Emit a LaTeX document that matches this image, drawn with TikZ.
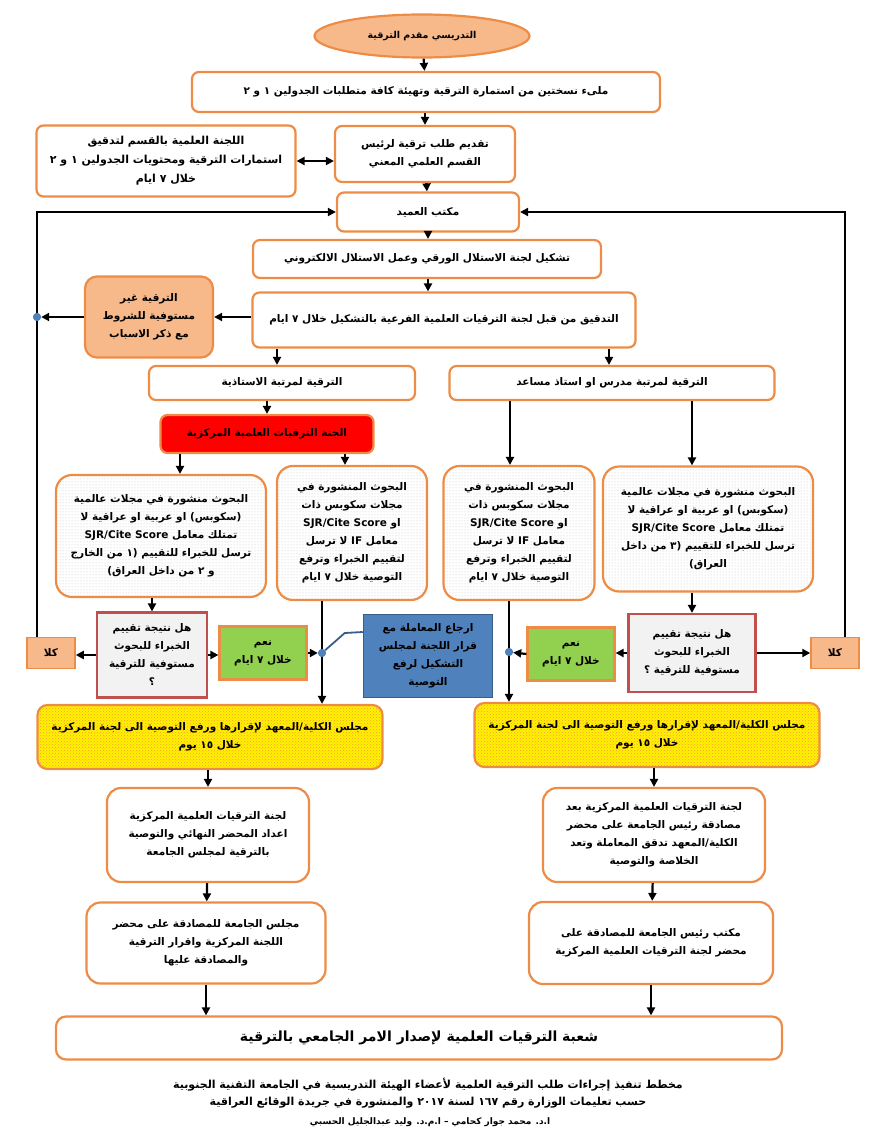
\documentclass[tikz,border=0pt]{standalone}
\usepackage{fontspec}
\newfontfamily\arabicfont[Script=Arabic]{DejaVu Sans}
\TeXXeTstate=1
\usetikzlibrary{arrows.meta,shapes.geometric,patterns}
\definecolor{bord}{RGB}{237,140,70}
\definecolor{lightor}{RGB}{248,185,138}
\definecolor{grn}{RGB}{146,208,80}
\definecolor{qbord}{RGB}{192,80,77}
\definecolor{qfill}{RGB}{242,242,242}
\definecolor{bluefill}{RGB}{79,129,189}
\definecolor{blueline}{RGB}{56,93,138}
\newcommand\artxt[1]{\beginR #1\endR}

\begin{document}
\begin{tikzpicture}[x=1pt,y=-1pt,
  font=\arabicfont\bfseries\fontsize{10.5}{18}\selectfont,
  box/.style={draw=bord,line width=2.2pt,rounded corners=7pt,fill=white,align=center,inner sep=2pt},
  dotbox/.style={draw=bord,line width=2.2pt,rounded corners=16pt,align=center,inner sep=2pt,
    preaction={fill=white},pattern=dots,pattern color=gray!45},
  yelbox/.style={draw=bord,line width=2.2pt,rounded corners=10pt,align=center,inner sep=2pt,
    preaction={fill=yellow},pattern=crosshatch dots,pattern color=orange!80},
  qbox/.style={draw=qbord,line width=2.2pt,fill=qfill,align=center,inner sep=2pt},
  nobox/.style={draw=bord,line width=1.5pt,fill=lightor,align=center,inner sep=2pt,minimum width=48pt,minimum height=31pt},
  yesbox/.style={draw=bord,line width=2.2pt,fill=grn,align=center,inner sep=2pt,minimum width=87pt,minimum height=53pt},
  jdot/.style={circle,fill=bluefill,inner sep=0pt,minimum width=6pt,minimum height=8pt},
  arr/.style={line width=2.2pt,-{Triangle[length=8pt,width=8pt]}},
  dblarr/.style={line width=2.2pt,{Triangle[length=8pt,width=8pt]}-{Triangle[length=8pt,width=8pt]}}]
\useasboundingbox (0,0) rectangle (873,1148);

\node[ellipse,draw=bord,line width=2.2pt,fill=lightor,minimum width=215pt,minimum height=43pt,font=\arabicfont\bfseries\fontsize{9.5}{12}\selectfont] (start) at (422,36) {\artxt{التدريسي مقدم الترقية}};
\node[box,minimum width=468pt,minimum height=40pt] (forms) at (426,92) {\artxt{ملىء نسختين من استمارة الترقية وتهيئة كافة متطلبات الجدولين ١ و ٢}};
\node[box,minimum width=180pt,minimum height=56pt] (submit) at (425,154) {\artxt{تقديم طلب ترقية لرئيس}\\\artxt{القسم العلمي المعني}};
\node[box,minimum width=259pt,minimum height=71pt,font=\arabicfont\bfseries\fontsize{11}{19}\selectfont] (deptcom) at (166,161) {\artxt{اللجنة العلمية بالقسم لتدقيق}\\\artxt{استمارات الترقية ومحتويات الجدولين ١ و ٢}\\\artxt{خلال ٧ ايام}};
\node[box,minimum width=182pt,minimum height=39pt] (dean) at (428,212) {\artxt{مكتب العميد}};
\node[box,minimum width=348pt,minimum height=38pt] (plag) at (427,259) {\artxt{تشكيل لجنة الاستلال الورقي وعمل الاستلال الالكتروني}};
\node[box,minimum width=383pt,minimum height=55pt] (audit) at (444,320) {\artxt{التدقيق من قبل لجنة الترقيات العلمية الفرعية بالتشكيل خلال ٧ ايام}};
\node[box,fill=lightor,rounded corners=12pt,minimum width=128pt,minimum height=81pt] (reject) at (149,317) {\artxt{الترقية غير}\\\artxt{مستوفية للشروط}\\\artxt{مع ذكر الاسباب}};
\node[box,minimum width=266pt,minimum height=34pt] (prof) at (282,383) {\artxt{الترقية لمرتبة الاستاذية}};
\node[box,minimum width=325pt,minimum height=34pt] (lect) at (612,383) {\artxt{الترقية لمرتبة مدرس او استاذ مساعد}};
\node[box,fill=red,minimum width=213pt,minimum height=38pt] (central) at (267,434) {\artxt{الجنة الترقيات العلمية المركزية}};

\node[dotbox,minimum width=210pt,minimum height=122pt] (extL) at (161,536) {\artxt{البحوث منشورة في مجلات عالمية}\\\artxt{(سكوبس) او عربية او عراقية لا}\\\artxt{تمتلك معامل \beginL SJR/Cite Score\endL}\\\artxt{ترسل للخبراء للتقييم (١ من الخارج}\\\artxt{و ٢ من داخل العراق)}};
\node[dotbox,minimum width=150pt,minimum height=134pt] (scoL) at (352,533) {\artxt{البحوث المنشورة في}\\\artxt{مجلات سكوبس ذات}\\\artxt{او \beginL SJR/Cite Score\endL}\\\artxt{معامل IF لا ترسل}\\\artxt{لتقييم الخبراء وترفع}\\\artxt{التوصية خلال ٧ ايام}};
\node[dotbox,minimum width=151pt,minimum height=134pt] (scoR) at (519,533) {\artxt{البحوث المنشورة في}\\\artxt{مجلات سكوبس ذات}\\\artxt{او \beginL SJR/Cite Score\endL}\\\artxt{معامل IF لا ترسل}\\\artxt{لتقييم الخبراء وترفع}\\\artxt{التوصية خلال ٧ ايام}};
\node[dotbox,minimum width=210pt,minimum height=125pt] (extR) at (708,529) {\artxt{البحوث منشورة في مجلات عالمية}\\\artxt{(سكوبس) او عربية او عراقية لا}\\\artxt{تمتلك معامل \beginL SJR/Cite Score\endL}\\\artxt{ترسل للخبراء للتقييم (٣ من داخل}\\\artxt{العراق)}};

\node[qbox,minimum width=110pt,minimum height=85pt] (askL) at (152,655) {\artxt{هل نتيجة تقييم}\\\artxt{الخبراء للبحوث}\\\artxt{مستوفية للترقية}\\\artxt{؟}};
\node[qbox,minimum width=127pt,minimum height=78pt] (askR) at (692,653) {\artxt{هل نتيجة تقييم}\\\artxt{الخبراء للبحوث}\\\artxt{مستوفية للترقية ؟}};
\node[nobox] (noL) at (51,653) {\artxt{كلا}};
\node[nobox] (noR) at (835,653) {\artxt{كلا}};
\node[yesbox] (yesL) at (263,653) {\artxt{نعم}\\\artxt{خلال ٧ ايام}};
\node[yesbox] (yesR) at (571,654) {\artxt{نعم}\\\artxt{خلال ٧ ايام}};
\node[draw=blueline,line width=1.5pt,fill=bluefill,align=center,minimum width=129pt,minimum height=83pt] (back) at (428,656) {\artxt{ارجاع المعاملة مع}\\\artxt{قرار اللجنة لمجلس}\\\artxt{التشكيل لرفع}\\\artxt{التوصية}};

\node[yelbox,minimum width=345pt,minimum height=64pt] (collL) at (210,737) {\artxt{مجلس الكلية/المعهد لإقرارها ورفع التوصية الى لجنة المركزية}\\\artxt{خلال ١٥ يوم}};
\node[yelbox,minimum width=345pt,minimum height=64pt] (collR) at (647,735) {\artxt{مجلس الكلية/المعهد لإقرارها ورفع التوصية الى لجنة المركزية}\\\artxt{خلال ١٥ يوم}};
\node[box,rounded corners=14pt,minimum width=202pt,minimum height=94pt] (finalL) at (208,835) {\artxt{لجنة الترقيات العلمية المركزية}\\\artxt{اعداد المحضر النهائي والتوصية}\\\artxt{بالترقية لمجلس الجامعة}};
\node[box,rounded corners=14pt,minimum width=222pt,minimum height=94pt] (finalR) at (654,835) {\artxt{لجنة الترقيات العلمية المركزية بعد}\\\artxt{مصادقة رئيس الجامعة على محضر}\\\artxt{الكلية/المعهد تدقق المعاملة وتعد}\\\artxt{الخلاصة والتوصية}};
\node[box,rounded corners=14pt,minimum width=239pt,minimum height=81pt] (unicL) at (206,943) {\artxt{مجلس الجامعة للمصادقة على محضر}\\\artxt{اللجنة المركزية واقرار الترقية}\\\artxt{والمصادقة عليها}};
\node[box,rounded corners=14pt,minimum width=244pt,minimum height=82pt] (unicR) at (651,943) {\artxt{مكتب رئيس الجامعة للمصادقة على}\\\artxt{محضر لجنة الترقيات العلمية المركزية}};
\node[box,rounded corners=10pt,minimum width=726pt,minimum height=43pt,font=\arabicfont\bfseries\fontsize{14}{16}\selectfont] (order) at (419,1038) {\artxt{شعبة الترقيات العلمية لإصدار الامر الجامعي بالترقية}};

\node[font=\arabicfont\bfseries\fontsize{11}{13}\selectfont] (cap1) at (428,1085) {\artxt{مخطط تنفيذ إجراءات طلب الترقية العلمية لأعضاء الهيئة التدريسية في الجامعة التقنية الجنوبية}};
\node[font=\arabicfont\bfseries\fontsize{11}{13}\selectfont] (cap2) at (428,1103) {\artxt{حسب تعليمات الوزارة رقم ١٦٧ لسنة ٢٠١٧ والمنشورة في جريدة الوقائع العراقية}};
\node[font=\arabicfont\bfseries\fontsize{9}{11}\selectfont] (cap3) at (430,1122) {\artxt{ا.د. محمد جوار كحامي – ا.م.د. وليد عبدالجليل الحسبي}};

\coordinate (railL) at (37,0);
\coordinate (railR) at (845,0);
\node[jdot] (dotA) at (37,317) {};
\node[jdot] (dotL) at (322,653) {};
\node[jdot] (dotR) at (509,652) {};

\draw[arr] (start) -- (forms);
\draw[arr] (forms.south -| submit) -- (submit);
\draw[dblarr] (deptcom.east) -- (deptcom.east -| submit.west);
\draw[arr] (submit) -- (dean);
\draw[arr] (dean) -- (dean |- plag.north);
\draw[arr] (plag.south -| dean) -- (dean |- audit.north);
\draw[arr] (audit.west |- reject) -- (reject.east);
\draw[arr] (reject.west) -- (dotA);
\draw[arr] (noL.north -| railL) -- (railL |- dean.west) -- (dean.west);
\draw[arr] (noR.north -| railR) -- (railR |- dean.east) -- (dean.east);
\draw[arr] ([xshift=-5pt]prof.north |- audit.south) -- ([xshift=-5pt]prof.north);
\draw[arr] ([xshift=-3pt]lect.north |- audit.south) -- ([xshift=-3pt]lect.north);
\draw[arr] (central.north |- prof.south) -- (central.north);
\draw[arr] ([xshift=-87pt]central.south) -- ([xshift=-87pt]central.south |- extL.north);
\draw[arr] ([xshift=78pt]central.south) -- ([xshift=78pt]central.south |- scoL.north);
\draw[arr] ([xshift=-9pt]scoR.north |- lect.south) -- ([xshift=-9pt]scoR.north);
\draw[arr] ([xshift=-16pt]extR.north |- lect.south) -- ([xshift=-16pt]extR.north);
\draw[arr] (extL.south -| askL.north) -- (askL.north);
\draw[arr] (extR.south -| askR.north) -- (askR.north);
\draw[arr] (askL.west) -- (askL.west -| noL.east);
\draw[arr] (askL.east) -- (askL.east -| yesL.west);
\draw[arr] (yesL.east) -- (dotL);
\draw[arr] (askR.east) -- (askR.east -| noR.west);
\draw[arr] (askR.west) -- (askR.west -| yesR.east);
\draw[arr] (yesR.west) -- (dotR);
\draw[arr] (dotL |- scoL.south) -- (dotL |- collL.north);
\draw[arr] (dotR |- scoR.south) -- (dotR |- collR.north);
\draw[blueline,line width=1.8pt] ([yshift=24pt]back.west) -- ++(-18,1) -- (dotL);
\draw[arr] (collL.south -| finalL) -- (finalL.north);
\draw[arr] (collR.south -| finalR) -- (finalR.north);
\draw[arr] (finalL) -- (unicL);
\draw[arr] (finalR) -- (unicR);
\draw[arr] (unicL.south) -- (unicL.south |- order.north);
\draw[arr] (unicR.south) -- (unicR.south |- order.north);
\node[jdot] at (dotA) {};
\node[jdot] at (dotL) {};
\node[jdot] at (dotR) {};
\end{tikzpicture}
\end{document}
